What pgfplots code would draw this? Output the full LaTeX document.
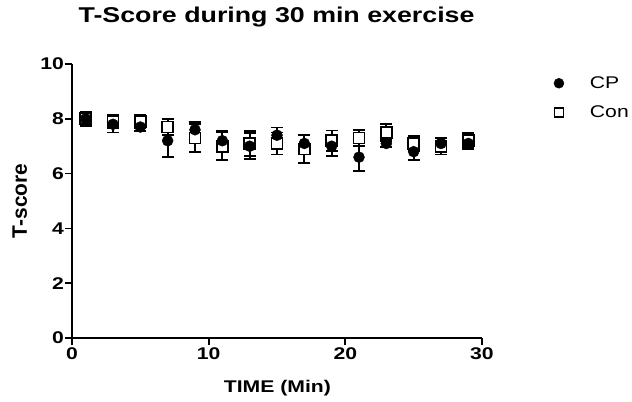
\documentclass[border=0pt]{standalone}
\usepackage{fontspec}
\setmainfont{Liberation Sans}
\newfontfamily\wide{Liberation Sans}[FakeStretch=1.25]
\usepackage{pgfplots}
\pgfplotsset{compat=1.18}

\pgfplotstableread{
x   y    e
1   8.0  0.25
3   7.8  0.30
5   7.7  0.15
7   7.2  0.60
9   7.6  0.27
11  7.2  0.35
13  7.0  0.48
15  7.4  0.28
17  7.1  0.30
19  7.0  0.35
21  6.6  0.50
23  7.1  0.12
25  6.8  0.30
27  7.1  0.20
29  7.1  0.20
}\cpdata

\pgfplotstableread{
x   y    e
1   8.0  0.22
3   7.9  0.25
5   7.9  0.25
7   7.7  0.30
9   7.3  0.50
11  7.0  0.50
13  7.1  0.45
15  7.1  0.40
17  6.9  0.50
19  7.2  0.37
21  7.3  0.30
23  7.5  0.30
25  7.1  0.28
27  7.0  0.30
29  7.2  0.28
}\condata

\begin{document}
\begin{tikzpicture}
\path[use as bounding box] (-72bp,-64bp) rectangle (560bp,338bp);
\begin{axis}[
  at={(0,0)}, anchor=origin,
  scale only axis,
  width=410bp, height=274bp,
  xmin=0, xmax=30, ymin=0, ymax=10,
  axis x line=bottom, axis y line=left,
  axis line style={-, line width=1.8pt},
  xtick={0,10,20,30}, ytick={0,2,4,6,8,10},
  tick align=outside, major tick length=7bp,
  tick style={line width=1.8pt, black},
  /pgf/number format/assume math mode=true,
  ticklabel style={font=\wide\fontsize{17}{19}\selectfont\bfseries},
  yticklabel style={inner sep=1bp},
  xticklabel style={inner sep=2bp},
  title={T-Score during 30 min exercise},
  title style={at={(axis description cs:0.499,1.131)}, anchor=base,
    font=\wide\fontsize{21.5}{24}\selectfont\bfseries},
  xlabel={TIME (Min)},
  xlabel style={at={(axis description cs:0.501,-0.2)}, anchor=base,
    font=\wide\fontsize{17}{20}\selectfont\bfseries},
  ylabel={T-score},
  ylabel style={at={(axis description cs:-0.11,0.5)}, anchor=base,
    font=\fontsize{21}{24}\selectfont\bfseries},
  legend style={draw=none, fill=none, at={(axis description cs:1.175,0.962)}, anchor=north west,
    font=\wide\fontsize{17}{20}\selectfont, row sep=12bp, inner sep=0pt,
    /tikz/every odd column/.append style={column sep=24bp}},
  legend cell align=left,
  clip=false,
]
\addlegendimage{only marks, mark=*, mark size=5bp, black}
\addlegendentry{CP}
\addlegendimage{only marks, mark=square, mark size=4.5bp, black, line width=1.2pt}
\addlegendentry{Con}

\addplot+[forget plot, only marks, black, mark=square*,
  mark options={fill=white, draw=black, line width=1.8pt}, mark size=5.5bp,
  error bars/.cd, y dir=both, y explicit,
  error bar style={line width=1.8pt, black},
  error mark options={rotate=90, mark size=6bp, line width=1.8pt, black}]
  table[x=x, y=y, y error=e] {\condata};

\addplot+[forget plot, only marks, black, mark=*,
  mark options={fill=black, draw=black}, mark size=5.5bp,
  error bars/.cd, y dir=both, y explicit,
  error bar style={line width=1.8pt, black},
  error mark options={rotate=90, mark size=6bp, line width=1.8pt, black}]
  table[x=x, y=y, y error=e] {\cpdata};
\end{axis}
\end{tikzpicture}
\end{document}
